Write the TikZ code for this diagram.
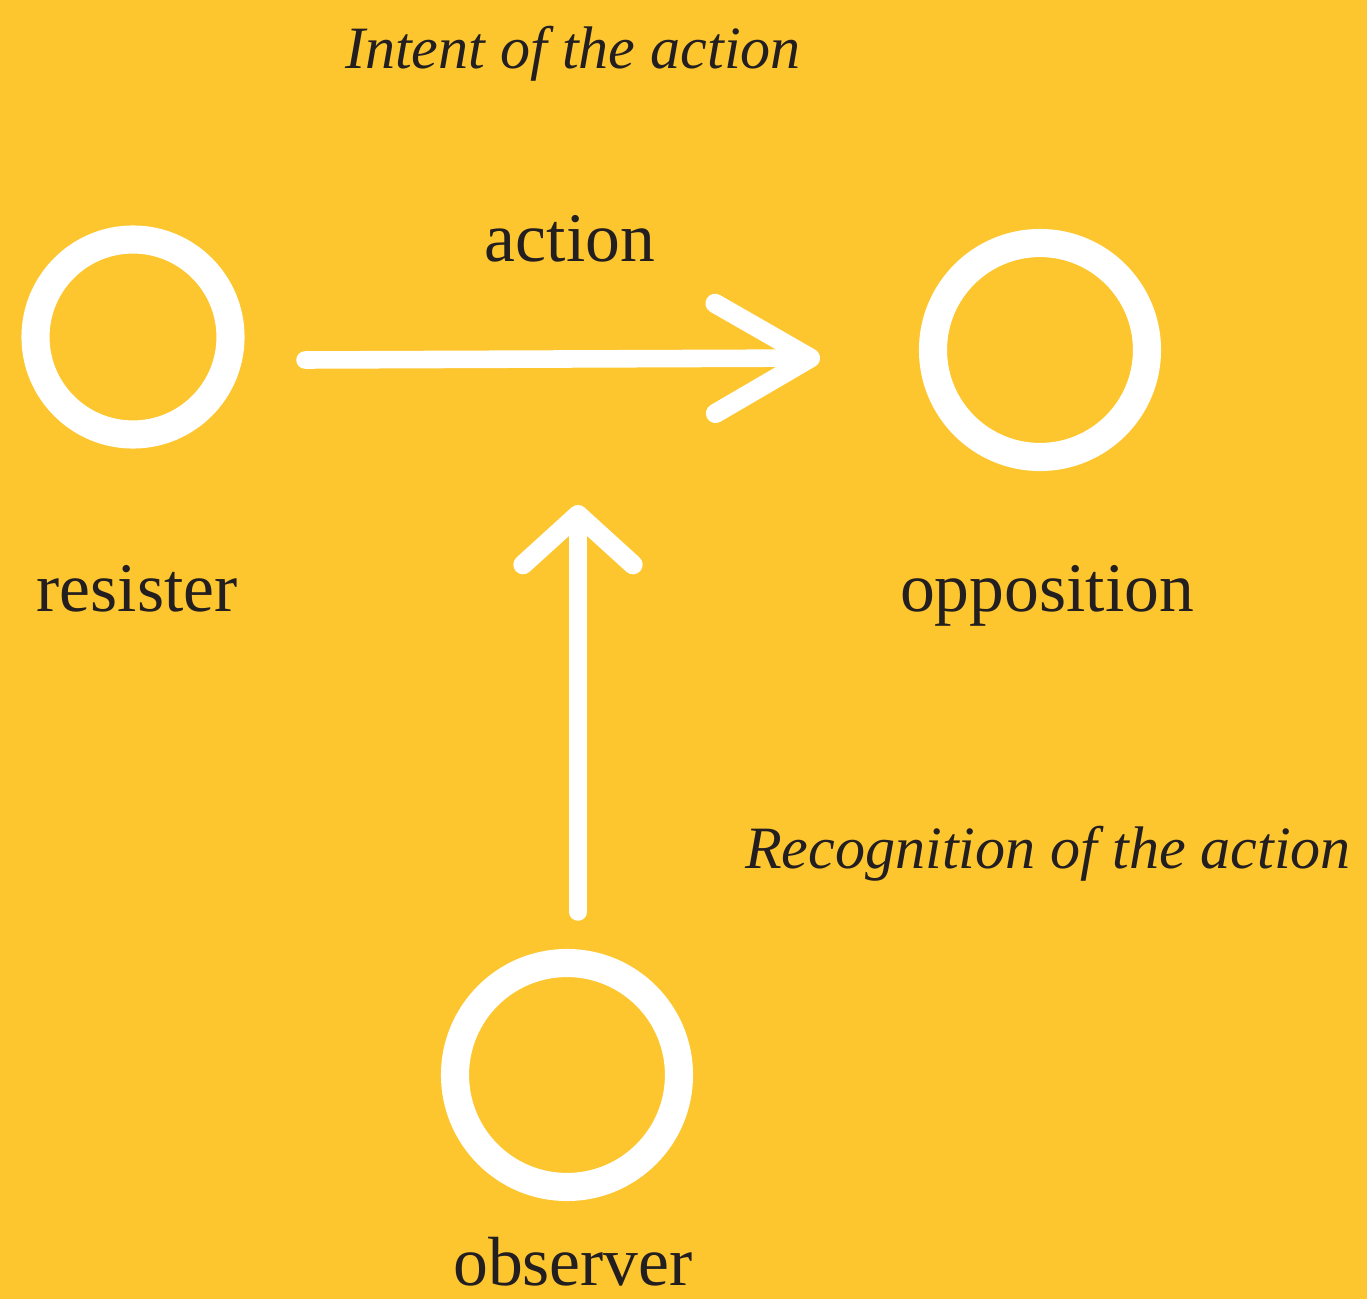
\documentclass[tikz,border=0pt]{standalone}
\usepackage{fontspec}
\setmainfont{Liberation Serif}
\usetikzlibrary{arrows.meta}
\usetikzlibrary{positioning}
\definecolor{bgyellow}{HTML}{FDC62F}
\definecolor{inkdark}{HTML}{231F20}

\begin{document}
\begin{tikzpicture}[line cap=round,line join=round,
    ring node/.style={circle,draw=white,line width=8pt,inner sep=0pt},
    word node/.style={anchor=base,text=inkdark,font=\fontsize{19.8}{24}\selectfont,inner sep=0pt},
    note node/.style={anchor=base,text=inkdark,font=\fontsize{17.1}{21}\selectfont\itshape,inner sep=0pt},
    flow/.style={draw=white,line width=5pt}]
   \fill[bgyellow] (0,0) rectangle (13.67,-12.99);
   \useasboundingbox (0,0) rectangle (13.67,-12.99);
   \begin{scope}
      \node[ring node,minimum size=1.95cm] (resister) at (1.33,-3.37) {};
      \node[ring node,minimum size=2.14cm] (opposition) at (10.40,-3.50) {};
      \node[ring node,minimum size=2.24cm] (observer) at (5.67,-10.75) {};
      \node[word node] (resisterlbl) at (1.37,-6.12) {resister};
      \node[word node] (oppositionlbl) at (10.47,-6.12) {opposition};
      \node[word node] (observerlbl) at (5.73,-12.85) {observer};
      \node[word node] (actionlbl) at (5.70,-2.62) {action};
      \node[note node] (intent) at (5.73,-0.68) {Intent of the action};
      \node[note node] (recog) at (10.48,-8.68) {Recognition of the action};
      \coordinate (actfrom) at (3.05,-3.60);
      \coordinate (actto) at (8.20,-3.58);
      \coordinate (seefrom) at (5.78,-9.12);
      \coordinate (seeto) at (5.78,-5.05);
       \draw[flow,-{Straight Barb[round,length=0.95cm,width=1.1cm,line width=5.5pt]}] (actfrom) -- (actto);
       \draw[flow,-{Straight Barb[round,length=0.5cm,width=1.1cm,line width=5.5pt]}] (seefrom) -- (seeto);
   \end{scope}
  \end{tikzpicture}
\end{document}
